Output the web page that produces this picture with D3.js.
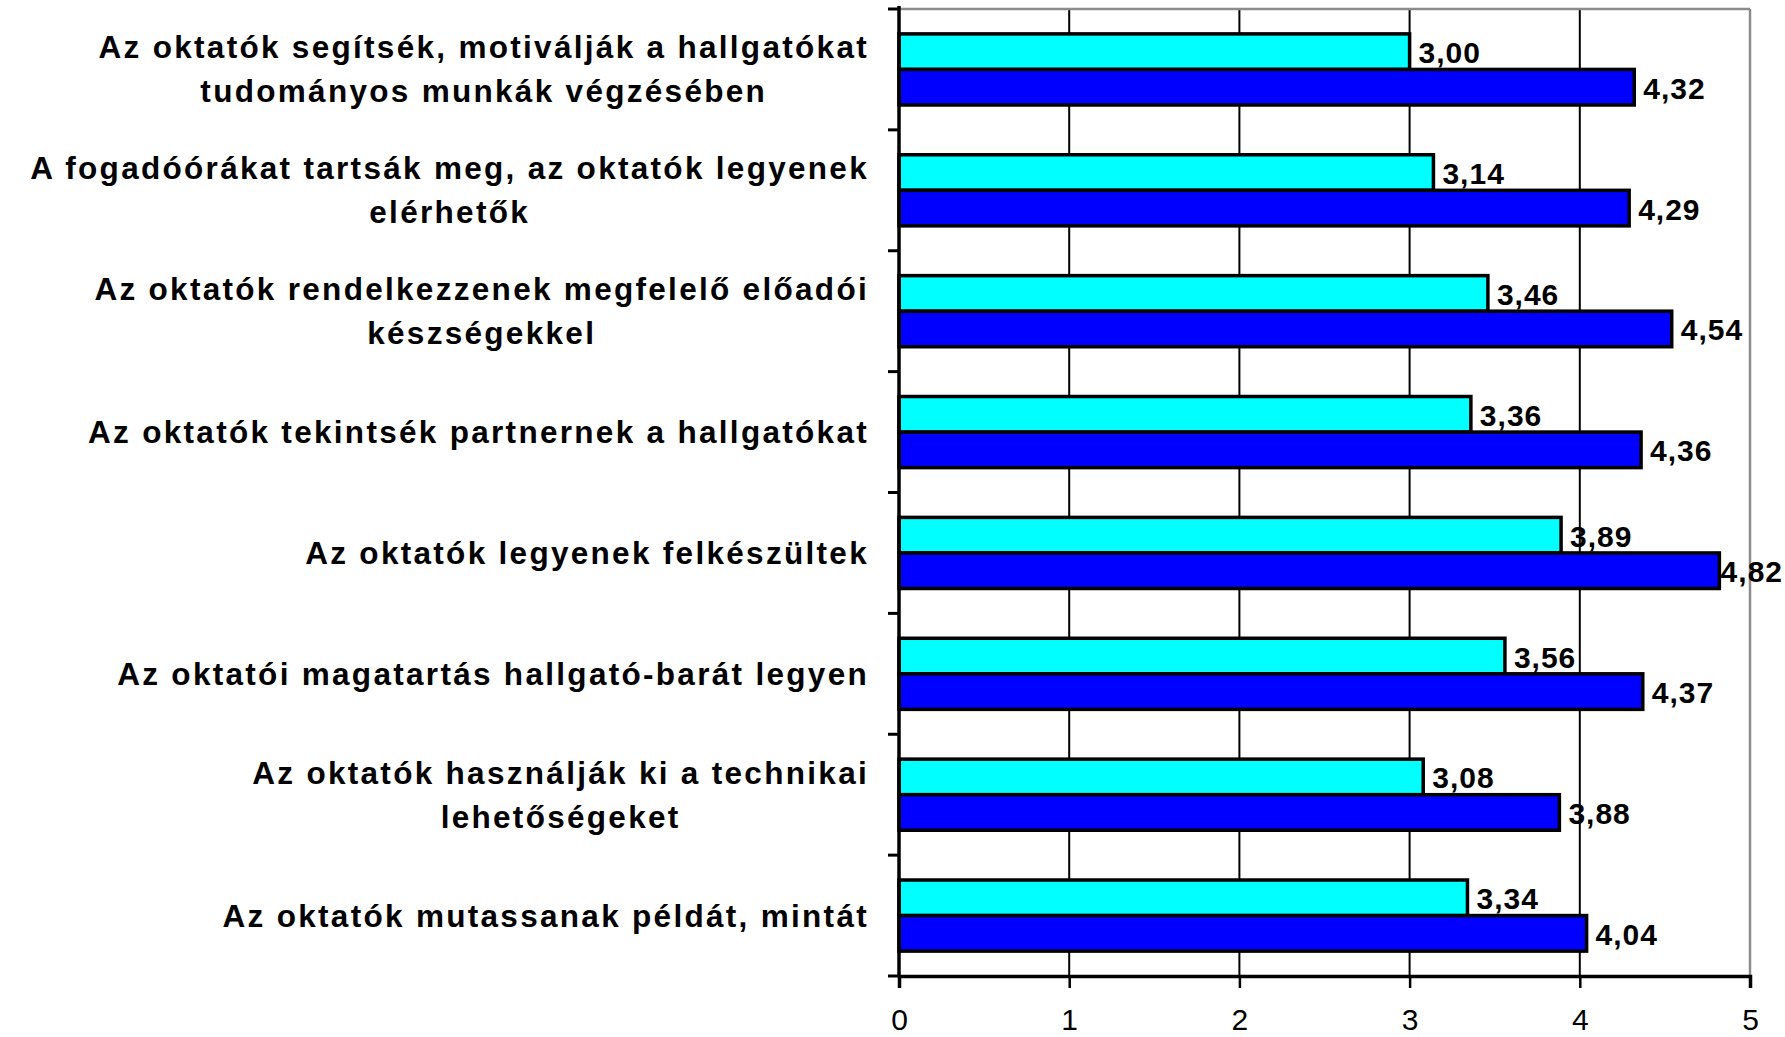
<!DOCTYPE html>
<html><head><meta charset="utf-8">
<script src="https://cdn.jsdelivr.net/npm/d3@7"></script>
<style>
html,body{margin:0;padding:0;background:#fff;}
svg{display:block;}
</style></head>
<body>
<svg id="chart" width="1785" height="1037"></svg>
<script>
const categories = [
  ["Az oktatók segítsék, motiválják a hallgatókat", "tudományos munkák végzésében"],
  ["A fogadóórákat tartsák meg, az oktatók legyenek", "elérhetők"],
  ["Az oktatók rendelkezzenek megfelelő előadói", "készségekkel"],
  ["Az oktatók tekintsék partnernek a hallgatókat"],
  ["Az oktatók legyenek felkészültek"],
  ["Az oktatói magatartás hallgató-barát legyen"],
  ["Az oktatók használják ki a technikai", "lehetőségeket"],
  ["Az oktatók mutassanak példát, mintát"]
];
const seriesCyan = [3.00, 3.14, 3.46, 3.36, 3.89, 3.56, 3.08, 3.34];
const seriesBlue = [4.32, 4.29, 4.54, 4.36, 4.82, 4.37, 3.88, 4.04];
const xTicks = [0, 1, 2, 3, 4, 5];

const svg = d3.select("#chart");
const W = 1785;
const L = 899, R = 1750, T = 9, B = 976;
const x = d3.scaleLinear().domain([0, 5]).range([L, R]);
const idx = categories.map((d, i) => i);
const y = d3.scaleBand().domain(idx).range([T, B]).paddingInner(0).paddingOuter(0);
const sub = d3.scaleBand().domain(["c", "b"]).range([0, y.bandwidth()]).paddingInner(0).paddingOuter(0.70);

// gridlines
svg.append("g").selectAll("line").data([1, 2, 3, 4]).join("line")
  .attr("x1", d => x(d)).attr("x2", d => x(d)).attr("y1", T).attr("y2", B)
  .attr("stroke", "#000").attr("stroke-width", 2);
// top & right border
svg.append("line").attr("x1", L).attr("x2", R).attr("y1", T).attr("y2", T).attr("stroke", "#8c8c8c").attr("stroke-width", 2.5);
svg.append("line").attr("x1", R).attr("x2", R).attr("y1", T).attr("y2", B).attr("stroke", "#8c8c8c").attr("stroke-width", 2.5);

// bars
const rows = idx.map(i => ({i, c: seriesCyan[i], b: seriesBlue[i]}));
const g = svg.append("g");
rows.forEach(r => {
  [["c", r.c, "#00ffff"], ["b", r.b, "#0000ff"]].forEach(([k, v, col]) => {
    const yy = y(r.i) + sub(k);
    g.append("rect").attr("x", x(0)).attr("y", yy).attr("width", x(v) - x(0)).attr("height", sub.bandwidth())
      .attr("fill", col).attr("stroke", "#000").attr("stroke-width", 3.5);
  });
});
// value labels
rows.forEach(r => {
  [["c", r.c], ["b", r.b]].forEach(([k, v]) => {
    const t = svg.append("text").attr("y", y(r.i) + sub(k) + sub.bandwidth() / 2 + 1)
      .attr("dominant-baseline", "central")
      .attr("font-family", "Liberation Sans, Arial, sans-serif").attr("font-weight", "bold").attr("font-size", 30)
      .attr("letter-spacing", "1px")
      .attr("fill", "#000").text(v.toFixed(2).replace(".", ","));
    const tw = t.node().getComputedTextLength();
    t.attr("x", Math.min(x(v) + 9, W - 2 - tw));
  });
});

// left axis
svg.append("line").attr("x1", L).attr("x2", L).attr("y1", T - 3).attr("y2", B).attr("stroke", "#000").attr("stroke-width", 3.5);
svg.append("g").selectAll("line").data(d3.range(categories.length + 1)).join("line")
  .attr("x1", L - 11).attr("x2", L).attr("y1", d => T + d * y.step()).attr("y2", d => T + d * y.step())
  .attr("stroke", "#000").attr("stroke-width", 3);

// bottom axis
const xAxis = d3.axisBottom(x).tickValues(xTicks).tickSize(12).tickPadding(21).tickFormat(d3.format("d"));
const ax = svg.append("g").attr("transform", `translate(0,${B})`).call(xAxis);
ax.select(".domain").attr("stroke", "#000").attr("stroke-width", 3.5);
ax.selectAll(".tick line").attr("stroke", "#000").attr("stroke-width", 2.5);
ax.selectAll(".tick text").attr("font-family", "Liberation Sans, Arial, sans-serif").attr("font-size", 30).attr("fill", "#000");

// category labels
const labRight = 869, lineH = 44;
categories.forEach((lines, i) => {
  const cy = y(i) + y.bandwidth() / 2;
  const grp = svg.append("g");
  const ts = lines.map((ln, j) => grp.append("text")
    .attr("y", cy + (j - (lines.length - 1) / 2) * lineH)
    .attr("dominant-baseline", "central").attr("text-anchor", "middle")
    .attr("font-family", "Liberation Sans, Arial, sans-serif").attr("font-weight", "bold")
    .attr("font-size", 31.5).attr("letter-spacing", "2.3px").attr("fill", "#000").text(ln));
  const w = d3.max(ts, t => t.node().getComputedTextLength());
  ts.forEach(t => t.attr("x", labRight - w / 2));
});
</script>
</body></html>
